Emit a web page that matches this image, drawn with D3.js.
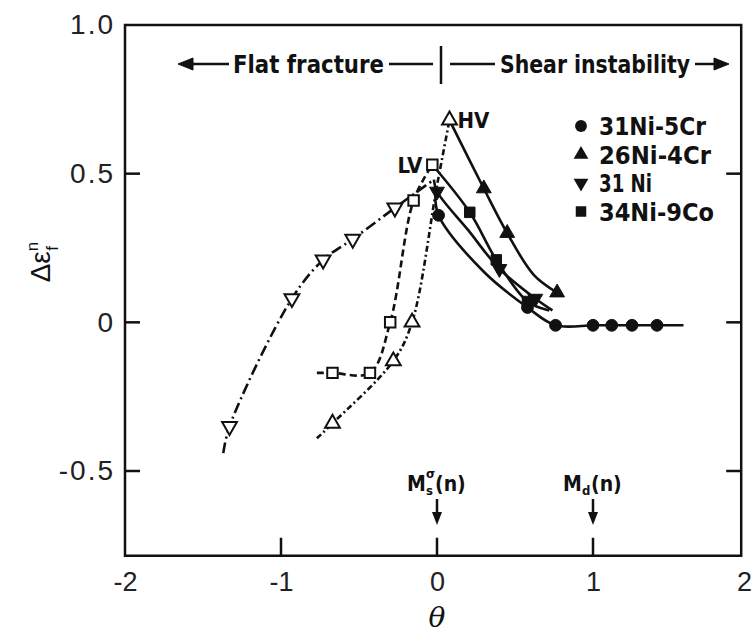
<!DOCTYPE html>
<html><head><meta charset="utf-8">
<script src="https://cdn.jsdelivr.net/npm/d3@7"></script>
<style>body{margin:0;background:#fff}svg{display:block}</style>
</head><body>
<script>
// ---------- data ----------
const xTicks = [-2, -1, 0, 1, 2];
const xTickLabels = ["-2", "-1", "0", "1", "2"];
const yTicks = [1.0, 0.5, 0, -0.5];
const yTickLabels = ["1.0", "0.5", "0", "-0.5"];
const innerTicksX = [-1, 0, 1];
const innerTicksY = [0.5, 0, -0.5];

const legendNames = ["31Ni-5Cr", "26Ni-4Cr", "31 Ni", "34Ni-9Co"];
const legendShapes = ["circle", "triUp", "triDown", "square"];

// Flat fracture side (open symbols)
const ni31OpenPts  = [[-1.33,-0.35],[-0.93,0.08],[-0.73,0.21],[-0.54,0.28],[-0.27,0.385]];
const ni31OpenLine = [[-1.37,-0.44],[-1.33,-0.35],[-0.93,0.08],[-0.73,0.21],[-0.54,0.28],[-0.27,0.385],[-0.02,0.48]];
const coOpenPts    = [[-0.67,-0.17],[-0.43,-0.17],[-0.30,0.0],[-0.15,0.41],[-0.03,0.53]];
const coOpenLine   = [[-0.77,-0.17],[-0.67,-0.17],[-0.43,-0.17],[-0.30,0.0],[-0.15,0.41],[-0.03,0.53]];
const cr4OpenPts   = [[-0.67,-0.34],[-0.28,-0.13],[-0.16,0.0],[0.08,0.68]];
const cr4OpenLine  = [[-0.77,-0.39],[-0.67,-0.34],[-0.28,-0.13],[-0.16,0.0],[0.0,0.46],[0.08,0.68]];

// Shear instability side (solid symbols)
const cr4Pts   = [[0.30,0.45],[0.45,0.30],[0.77,0.10]];
const cr4Line  = [[0.08,0.68],[0.30,0.45],[0.45,0.30],[0.62,0.16],[0.77,0.10]];
const coPts    = [[0.21,0.37],[0.38,0.21],[0.58,0.07]];
const coLine   = [[-0.03,0.53],[0.21,0.37],[0.38,0.21],[0.58,0.07],[0.72,0.04]];
const ni31Pts  = [[0.0,0.44],[0.40,0.18],[0.63,0.08]];
const ni31Line = [[-0.02,0.48],[0.0,0.44],[0.20,0.31],[0.40,0.18],[0.63,0.08],[0.74,0.04]];
const cr5Pts   = [[0.01,0.36],[0.58,0.05],[0.76,-0.01],[1.0,-0.01],[1.12,-0.01],[1.25,-0.01],[1.41,-0.01]];
const cr5Line  = [[-0.01,0.44],[0.01,0.36],[0.30,0.17],[0.58,0.05],[0.76,-0.01],[1.0,-0.01],[1.12,-0.01],[1.25,-0.01],[1.41,-0.01],[1.58,-0.01]];

// ---------- setup ----------
const W = 754, H = 637;
const ink = "#111";
const svg = d3.select("body").append("svg").attr("width", W).attr("height", H);
svg.append("rect").attr("width", W).attr("height", H).attr("fill", "#fff");

const x = d3.scaleLinear().domain([-2, 2]).range([125, 749]);
const y = d3.scaleLinear().domain([-0.5, 1.0]).range([471, 25]);
const frameX = [-2, 1.95], frameY = [-0.785, 1.0];

const tickFont = "'Liberation Sans', Arial, sans-serif";
const condFont = "'Liberation Sans Narrow', 'DejaVu Sans Condensed', 'Roboto Condensed', sans-serif";

// frame
svg.append("rect")
  .attr("x", x(frameX[0])).attr("y", y(frameY[1]))
  .attr("width", x(frameX[1]) - x(frameX[0]))
  .attr("height", y(frameY[0]) - y(frameY[1]))
  .attr("fill", "none").attr("stroke", ink).attr("stroke-width", 2.5);

// axes
const yAxis = d3.axisLeft(y).tickValues(yTicks).tickSize(0).tickPadding(10)
  .tickFormat((d, i) => yTickLabels[i]);
const gy = svg.append("g").attr("transform", `translate(${x(frameX[0])},0)`).call(yAxis);
gy.select(".domain").remove();
gy.selectAll("text").attr("font-family", tickFont).attr("font-size", 28)
  .attr("letter-spacing", 2).attr("fill", "#222");

const xAxis = d3.axisBottom(x).tickValues(xTicks).tickSize(0).tickPadding(16)
  .tickFormat((d, i) => xTickLabels[i]);
const gx = svg.append("g").attr("transform", `translate(0,${y(frameY[0])})`).call(xAxis);
gx.select(".domain").remove();
gx.selectAll("text").attr("font-family", tickFont).attr("font-size", 27).attr("fill", "#222")
  .attr("dx", d => d === 2 ? -5 : 0);

// inner ticks
svg.append("g").selectAll("line").data(innerTicksY).join("line")
  .attr("x1", x(frameX[0])).attr("x2", x(frameX[0]) + 15)
  .attr("y1", d => y(d)).attr("y2", d => y(d)).attr("stroke", ink).attr("stroke-width", 2.5);
svg.append("g").selectAll("line").data(innerTicksY).join("line")
  .attr("x1", x(frameX[1])).attr("x2", x(frameX[1]) - 15)
  .attr("y1", d => y(d)).attr("y2", d => y(d)).attr("stroke", ink).attr("stroke-width", 2.5);
svg.append("g").selectAll("line").data(innerTicksX).join("line")
  .attr("x1", d => x(d)).attr("x2", d => x(d))
  .attr("y1", y(frameY[0])).attr("y2", y(frameY[0]) - 18).attr("stroke", ink).attr("stroke-width", 2.5);

// axis titles
svg.append("text").attr("x", x(0)).attr("y", 627).attr("text-anchor", "middle")
  .attr("font-family", "'DejaVu Serif', serif").attr("font-style", "italic")
  .attr("font-size", 28).attr("fill", ink).text("θ");
const yt = svg.append("text").attr("transform", "translate(50,262) rotate(-90)")
  .attr("text-anchor", "middle").attr("font-family", tickFont).attr("font-size", 28).attr("fill", ink);
yt.append("tspan").text("Δε");
yt.append("tspan").attr("font-size", 17).attr("dy", -12).text("n");
yt.append("tspan").attr("font-size", 17).attr("dx", -9).attr("dy", 20).text("f");

// ---------- lines ----------
const line = d3.line().x(d => x(d[0])).y(d => y(d[1])).curve(d3.curveCatmullRom.alpha(0.5));
const lines = [
  {d: ni31OpenLine, dash: "11,4,2,4"},
  {d: coOpenLine, dash: "7,4"},
  {d: cr4OpenLine, dash: "6,3,2,3"},
  {d: cr4Line, dash: null},
  {d: coLine, dash: null},
  {d: ni31Line, dash: null},
  {d: cr5Line, dash: null}
];
svg.append("g").selectAll("path").data(lines).join("path")
  .attr("d", s => line(s.d)).attr("fill", "none").attr("stroke", ink)
  .attr("stroke-width", 2.6).attr("stroke-dasharray", s => s.dash);

// ---------- markers ----------
const symSize = {circle: 110, triUp: 95, triDown: 95, square: 110};
function symPath(shape) {
  const t = shape === "circle" ? d3.symbolCircle : shape === "square" ? d3.symbolSquare : d3.symbolTriangle;
  return d3.symbol().type(t).size(symSize[shape])();
}
function drawMarkers(pts, shape, open) {
  svg.append("g").selectAll("path").data(pts).join("path")
    .attr("d", symPath(shape))
    .attr("transform", d => `translate(${x(d[0])},${y(d[1])})${shape === "triDown" ? " rotate(180)" : ""}`)
    .attr("fill", open ? "#fff" : ink).attr("stroke", ink).attr("stroke-width", open ? 2 : 1);
}
drawMarkers(ni31OpenPts, "triDown", true);
drawMarkers(coOpenPts, "square", true);
drawMarkers(cr4OpenPts, "triUp", true);
drawMarkers(cr4Pts, "triUp", false);
drawMarkers(coPts, "square", false);
drawMarkers(ni31Pts, "triDown", false);
drawMarkers(cr5Pts, "circle", false);

// LV / HV labels
svg.append("text").attr("x", x(-0.03) - 10).attr("y", y(0.53) + 8).attr("text-anchor", "end")
  .attr("font-family", condFont).attr("font-weight", "bold").attr("font-size", 22).attr("fill", ink).text("LV");
svg.append("text").attr("x", x(0.08) + 8).attr("y", y(0.68) + 8)
  .attr("font-family", condFont).attr("font-weight", "bold").attr("font-size", 22).attr("fill", ink).text("HV");

// ---------- legend ----------
const legendWidths = [107, 112, 53, 115];
const lg = svg.append("g");
legendNames.forEach((name, i) => {
  const ly = 126 + i * 28.5;
  lg.append("path").attr("d", symPath(legendShapes[i]))
    .attr("transform", `translate(581,${ly})${legendShapes[i] === "triDown" ? " rotate(180)" : ""}`)
    .attr("fill", ink);
  lg.append("text").attr("x", 599).attr("y", ly + 9)
    .attr("textLength", legendWidths[i]).attr("lengthAdjust", "spacingAndGlyphs")
    .attr("font-family", condFont).attr("font-weight", "bold").attr("font-size", 25)
    .attr("fill", ink).text(name);
});

// ---------- header ----------
const hy = 64;
const hdr = svg.append("g").attr("stroke", ink).attr("fill", ink);
function arrowHead(tipX, dir) {
  hdr.append("path").attr("d", `M${tipX},${hy} L${tipX - dir*15},${hy-6} L${tipX - dir*15},${hy+6} Z`);
}
arrowHead(178, -1);
hdr.append("line").attr("x1", 190).attr("x2", 229).attr("y1", hy).attr("y2", hy).attr("stroke-width", 2.5);
hdr.append("line").attr("x1", 389).attr("x2", 433).attr("y1", hy).attr("y2", hy).attr("stroke-width", 2.5);
hdr.append("line").attr("x1", 441).attr("x2", 441).attr("y1", 46).attr("y2", 84).attr("stroke-width", 2.5);
hdr.append("line").attr("x1", 450).attr("x2", 495).attr("y1", hy).attr("y2", hy).attr("stroke-width", 2.5);
hdr.append("line").attr("x1", 695).attr("x2", 717).attr("y1", hy).attr("y2", hy).attr("stroke-width", 2.5);
arrowHead(729, 1);
svg.append("text").attr("x", 233).attr("y", hy + 9).attr("textLength", 151).attr("lengthAdjust", "spacingAndGlyphs")
  .attr("font-family", condFont).attr("font-weight", "bold").attr("font-size", 25).attr("fill", ink).text("Flat fracture");
svg.append("text").attr("x", 500).attr("y", hy + 9).attr("textLength", 190).attr("lengthAdjust", "spacingAndGlyphs")
  .attr("font-family", condFont).attr("font-weight", "bold").attr("font-size", 25).attr("fill", ink).text("Shear instability");

// ---------- M_s / M_d annotations ----------
function txt(xp, yp, s, size, anchor) {
  svg.append("text").attr("x", xp).attr("y", yp).attr("text-anchor", anchor || "start")
    .attr("font-family", condFont).attr("font-weight", "bold").attr("font-size", size).attr("fill", ink).text(s);
}
function arrowDown(xv) {
  svg.append("line").attr("x1", x(xv)).attr("x2", x(xv)).attr("y1", 499).attr("y2", 515)
    .attr("stroke", ink).attr("stroke-width", 2.5);
  svg.append("path").attr("d", `M${x(xv)},525 L${x(xv)-5},512 L${x(xv)+5},512 Z`).attr("fill", ink);
}
// M_s^sigma(n)
txt(x(0) - 30, 491, "M", 21);
txt(x(0) - 11, 478, "σ", 13);
txt(x(0) - 11, 495, "s", 13);
txt(x(0) - 2, 491, "(n)", 21);
arrowDown(0);
// M_d(n)
txt(x(1) - 30, 491, "M", 21);
txt(x(1) - 11, 495, "d", 13);
txt(x(1) - 2, 491, "(n)", 21);
arrowDown(1);
</script>
</body></html>
